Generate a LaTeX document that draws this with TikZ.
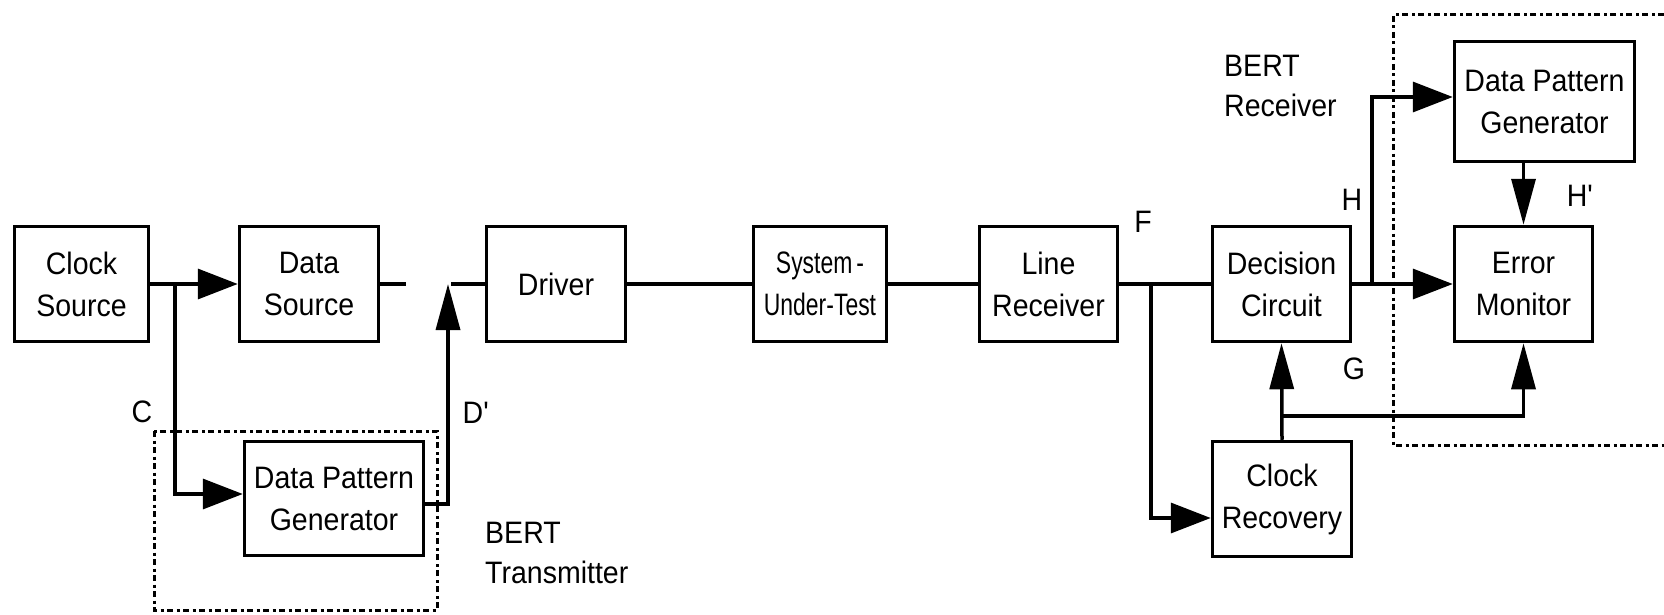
\documentclass[tikz,border=0pt]{standalone}
\usepackage{fontspec}
\setmainfont{Liberation Sans}[FakeStretch=0.92]
\newfontfamily\sutfont{Liberation Sans}[FakeStretch=0.74]
\usetikzlibrary{arrows.meta}
\begin{document}
\begin{tikzpicture}[x=1pt,y=-1pt,
  box/.style={draw, line width=3.5pt, rectangle, inner sep=0pt, align=center,
    font=\fontsize{31}{42}\selectfont},
  conn/.style={line width=3.5pt},
  harrow/.style={conn, -{Triangle[length=40pt,width=30pt]}},
  varrow/.style={conn, -{Triangle[length=46pt,width=24pt]}},
  lbl/.style={inner sep=0pt, font=\fontsize{31}{40}\selectfont},
  grp/.style={line width=3pt, dash pattern=on 6pt off 3.5pt on 3pt off 3.5pt}]
\useasboundingbox (0,0) rectangle (1664,615);

% group outlines
\draw[grp] (154,431) rectangle (437,610);
\draw[grp] (1664,15) -- (1393,15) -- (1393,445) -- (1664,445);

% boxes
\node[box, minimum width=134pt, minimum height=115pt] (cs) at (81.5,284) {Clock\\Source};
\node[box, minimum width=139pt, minimum height=115pt] (ds) at (309,284) {Data\\Source};
\node[box, minimum width=139pt, minimum height=115pt] (drv) at (556,284) {Driver};
\node[box, minimum width=133pt, minimum height=115pt] (sut) at (820,284) {\sutfont System\hspace{4pt}-\\\sutfont Under-Test};
\node[box, minimum width=138pt, minimum height=115pt] (lr) at (1048.5,284) {Line\\Receiver};
\node[box, minimum width=138pt, minimum height=115pt] (dc) at (1281.5,284) {Decision\\Circuit};
\node[box, minimum width=138pt, minimum height=115pt] (em) at (1523.5,284) {Error\\Monitor};
\node[box, minimum width=180pt, minimum height=120pt] (dpgr) at (1544.5,101.5) {Data Pattern\\Generator};
\node[box, minimum width=139pt, minimum height=115pt] (cr) at (1282,499) {Clock\\Recovery};
\node[box, minimum width=179pt, minimum height=114pt] (dpgt) at (334,498.5) {Data Pattern\\Generator};

% labels
\node[lbl] (lC) at (142,412) {C};
\node[lbl] (lD) at (476,413) {D\textquotesingle};
\node[lbl] (lF) at (1143,222) {F};
\node[lbl] (lH) at (1352,200) {H};
\node[lbl] (lH2) at (1580,196) {H\textquotesingle};
\node[lbl] (lG) at (1354,369) {G};
\node[lbl, anchor=base west, align=left] (lrx) at (1224,117) {BERT\\Receiver};
\node[lbl, anchor=base west, align=left] (ltx) at (485,583) {BERT\\Transmitter};

% coordinates
\coordinate (c1) at (175,284);
\coordinate (dsend) at (406,284);
\coordinate (dtip) at (448,284);
\coordinate (f1) at (1151,284);
\coordinate (h1) at (1372,284);
\coordinate (g1) at (1282,416);

% connectors
\draw[harrow] (cs.east) -- (ds.west);
\draw[harrow] (c1) |- ([yshift=4.5pt]dpgt.west);
\draw[conn] (ds.east) -- (dsend);
\draw[varrow] ([yshift=-5.5pt]dpgt.east) -| (dtip);
\draw[conn] ([xshift=3pt]dtip) -- (drv.west);
\draw[conn] (drv.east) -- (sut.west);
\draw[conn] (sut.east) -- (lr.west);
\draw[conn] (lr.east) -- (dc.west);
\draw[harrow] (f1) |- ([yshift=-19pt]cr.west);
\draw[harrow] (dc.east) -- (em.west);
\draw[harrow] (h1) |- ([yshift=4.5pt]dpgr.west);
\draw[varrow] (em.north |- dpgr.south) -- (em.north);
\draw[varrow] (cr.north) -- (dc.south);
\draw[varrow] (g1) -| (em.south);
\end{tikzpicture}
\end{document}
